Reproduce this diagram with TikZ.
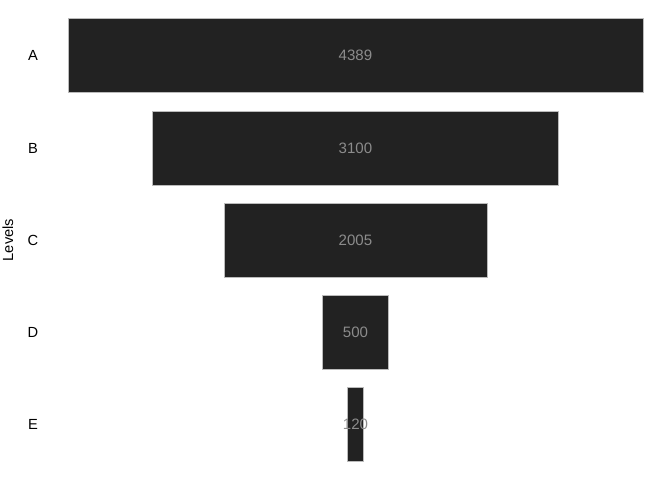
\documentclass[tikz,border=0pt]{standalone}
\usepackage{fontspec}
\setmainfont{Liberation Sans}
\definecolor{barfill}{HTML}{222222}
\definecolor{numcol}{HTML}{8C8C8C}
\definecolor{edgecol}{HTML}{BBBBBB}
\begin{document}
\begin{tikzpicture}[x=0.75pt,y=-0.75pt,
  bar/.style={fill=barfill,draw=edgecol,line width=0.4pt},
  numlab/.style={text=numcol,font=\fontsize{11.3}{13}\selectfont,inner sep=0pt},
  levlab/.style={text=black,font=\fontsize{11}{13}\selectfont,inner sep=0pt}]
\useasboundingbox (0,0) rectangle (672,480);
\def\cx{355.5}
\def\sc{0.1310}
\foreach \nm/\val/\yc in {A/4389/55, B/3100/148, C/2005/240, D/500/332, E/120/424}{
  \pgfmathsetmacro{\hw}{\val*\sc/2}
  \draw[bar] (\cx-\hw,\yc-37) rectangle (\cx+\hw,\yc+37);
  \node[numlab] (n\nm) at (\cx,\yc) {\val};
  \node[levlab] (l\nm) at (33,\yc) {\nm};
}
\node[levlab,rotate=90] (levels) at (8,240) {Levels};
\end{tikzpicture}
\end{document}
